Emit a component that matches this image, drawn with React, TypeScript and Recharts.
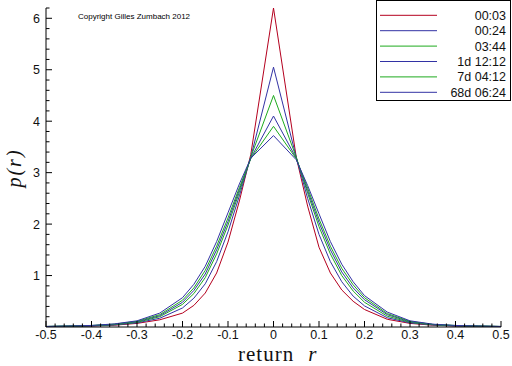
import React from "react";
import { LineChart, Line, XAxis, YAxis, Legend } from "recharts";

const returns = [-0.5, -0.45, -0.4, -0.35, -0.3, -0.25, -0.2, -0.175, -0.15, -0.125, -0.1, -0.075, -0.05, 0, 0.05, 0.075, 0.1, 0.125, 0.15, 0.175, 0.2, 0.25, 0.3, 0.35, 0.4, 0.45, 0.5];

const p0003 = [0.01, 0.01, 0.02, 0.035, 0.07, 0.14, 0.27, 0.42, 0.66, 1.05, 1.65, 2.45, 3.35, 6.2, 3.3, 2.35, 1.55, 1.05, 0.72, 0.5, 0.34, 0.15, 0.07, 0.035, 0.02, 0.01, 0.01];
const p0024 = [0.01, 0.015, 0.02, 0.04, 0.08, 0.17, 0.37, 0.56, 0.84, 1.27, 1.85, 2.55, 3.3, 5.05, 3.3, 2.5, 1.8, 1.27, 0.88, 0.6, 0.41, 0.18, 0.08, 0.04, 0.02, 0.015, 0.01];
const p0344 = [0.01, 0.015, 0.025, 0.045, 0.09, 0.2, 0.44, 0.65, 0.96, 1.42, 1.98, 2.62, 3.3, 4.5, 3.3, 2.6, 1.95, 1.42, 1.0, 0.7, 0.48, 0.21, 0.09, 0.045, 0.025, 0.015, 0.01];
const p1d = [0.01, 0.015, 0.025, 0.05, 0.1, 0.22, 0.48, 0.71, 1.03, 1.5, 2.05, 2.67, 3.28, 4.1, 3.28, 2.65, 2.03, 1.5, 1.07, 0.76, 0.53, 0.24, 0.1, 0.05, 0.025, 0.015, 0.01];
const p7d = [0.01, 0.02, 0.03, 0.055, 0.11, 0.24, 0.52, 0.76, 1.1, 1.57, 2.12, 2.71, 3.27, 3.9, 3.27, 2.7, 2.1, 1.57, 1.14, 0.82, 0.57, 0.26, 0.11, 0.05, 0.03, 0.02, 0.01];
const p68d = [0.01, 0.02, 0.03, 0.06, 0.12, 0.27, 0.57, 0.83, 1.18, 1.66, 2.22, 2.78, 3.28, 3.72, 3.25, 2.75, 2.2, 1.66, 1.22, 0.88, 0.61, 0.29, 0.12, 0.055, 0.03, 0.02, 0.01];

const seriesNames = ["00:03", "00:24", "03:44", "1d 12:12", "7d 04:12", "68d 06:24"];
const seriesValues = [p0003, p0024, p0344, p1d, p7d, p68d];
const seriesColors = ["#b4001e", "#3232a4", "#1eaa1e", "#3232a4", "#1eaa1e", "#3232a4"];

const xMajorLabels = ["-0.5", "-0.4", "-0.3", "-0.2", "-0.1", "0", "0.1", "0.2", "0.3", "0.4", "0.5"];
const yMajorLabels = ["1", "2", "3", "4", "5", "6"];

const xTicks = Array.from({ length: 51 }, (_, i) => Number((-0.5 + i * 0.02).toFixed(2)));
const yTicks = Array.from({ length: 32 }, (_, i) => Number((i * 0.2).toFixed(1)));

const rows = returns.map((r, i) => {
  const row: Record<string, number> = { r };
  seriesNames.forEach((n, k) => {
    row[n] = seriesValues[k][i];
  });
  return row;
});

const FONT = "'Liberation Sans', Arial, sans-serif";

const XTick = (props: any) => {
  const { x, y, payload } = props;
  const v = payload.value as number;
  const label = xMajorLabels.find((l) => Math.abs(parseFloat(l) - v) < 1e-6);
  const isMajor = label !== undefined;
  return (
    <g>
      <line x1={x} x2={x} y1={y} y2={y - (isMajor ? 6 : 3.5)} stroke="#000" strokeWidth={1} />
      {isMajor && (
        <text x={x} y={y + 12} textAnchor="middle" fontFamily={FONT} fontSize={12.5} fill="#111">
          {label}
        </text>
      )}
    </g>
  );
};

const YTick = (props: any) => {
  const { x, y, payload } = props;
  const v = payload.value as number;
  if (v === 0) return <g />;
  const label = yMajorLabels.find((l) => Math.abs(parseFloat(l) - v) < 1e-6);
  const isMajor = label !== undefined;
  return (
    <g>
      <line x1={x} x2={x + (isMajor ? 6 : 3.5)} y1={y} y2={y} stroke="#000" strokeWidth={1} />
      {isMajor && (
        <text x={x - 6} y={y + 4.5} textAnchor="end" fontFamily={FONT} fontSize={12.5} fill="#111">
          {label}
        </text>
      )}
    </g>
  );
};

const LegendBox = () => (
  <svg width={136} height={101} style={{ display: "block" }}>
    <rect x={0.5} y={0.5} width={134} height={100} fill="#fff" stroke="#000" />
    {seriesNames.map((n, i) => {
      const cy = 15.3 + i * 15.4;
      return (
        <g key={n}>
          <line x1={4} x2={61} y1={cy} y2={cy} stroke={seriesColors[i]} strokeWidth={1} />
          <text x={130} y={cy + 4.5} textAnchor="end" fontFamily={FONT} fontSize={12.5} fill="#111">
            {n}
          </text>
        </g>
      );
    })}
  </svg>
);

export default function App() {
  return (
    <div style={{ position: "absolute", left: 0, top: 0, width: 512, height: 366, background: "#fff" }}>
      <LineChart width={512} height={366} data={rows} margin={{ top: 8, right: 11, left: 0, bottom: 0 }}>
        <XAxis
          dataKey="r"
          type="number"
          domain={[-0.5, 0.5]}
          allowDataOverflow
          ticks={xTicks}
          interval={0}
          height={39}
          tickSize={0}
          tickMargin={0}
          tickLine={false}
          tick={<XTick />}
          axisLine={{ stroke: "#000" }}
        />
        <YAxis
          type="number"
          domain={[0, 6.2]}
          allowDataOverflow
          ticks={yTicks}
          interval={0}
          width={46}
          tickSize={0}
          tickMargin={0}
          tickLine={false}
          tick={<YTick />}
          axisLine={{ stroke: "#000" }}
        />
        {seriesNames.map((n, i) => (
          <Line
            key={n}
            dataKey={n}
            name={n}
            type="linear"
            stroke={seriesColors[i]}
            strokeWidth={1}
            dot={false}
            activeDot={false}
            isAnimationActive={false}
          />
        ))}
        <Legend
          layout="vertical"
          align="center"
          verticalAlign="middle"
          content={() => <LegendBox />}
          wrapperStyle={{ position: "absolute", left: 376, top: 0, width: 136, height: 101 }}
        />
      </LineChart>
      <svg width={512} height={366} style={{ position: "absolute", left: 0, top: 0, pointerEvents: "none" }}>
        <text x={78} y={19} fontFamily={FONT} fontSize={8} fill="#000">
          Copyright Gilles Zumbach 2012
        </text>
        <text
          transform="translate(21,168) rotate(-90)"
          textAnchor="middle"
          fontFamily="'Liberation Serif', 'Times New Roman', serif"
          fontSize={20}
          fontStyle="italic"
          letterSpacing={2}
          fill="#111"
        >
          p(r)
        </text>
        <text x={238} y={361} fontFamily="'Liberation Serif', 'Times New Roman', serif" fontSize={21} fill="#111" letterSpacing={1}>
          return
          <tspan dx={14} fontStyle="italic">r</tspan>
        </text>
      </svg>
    </div>
  );
}
